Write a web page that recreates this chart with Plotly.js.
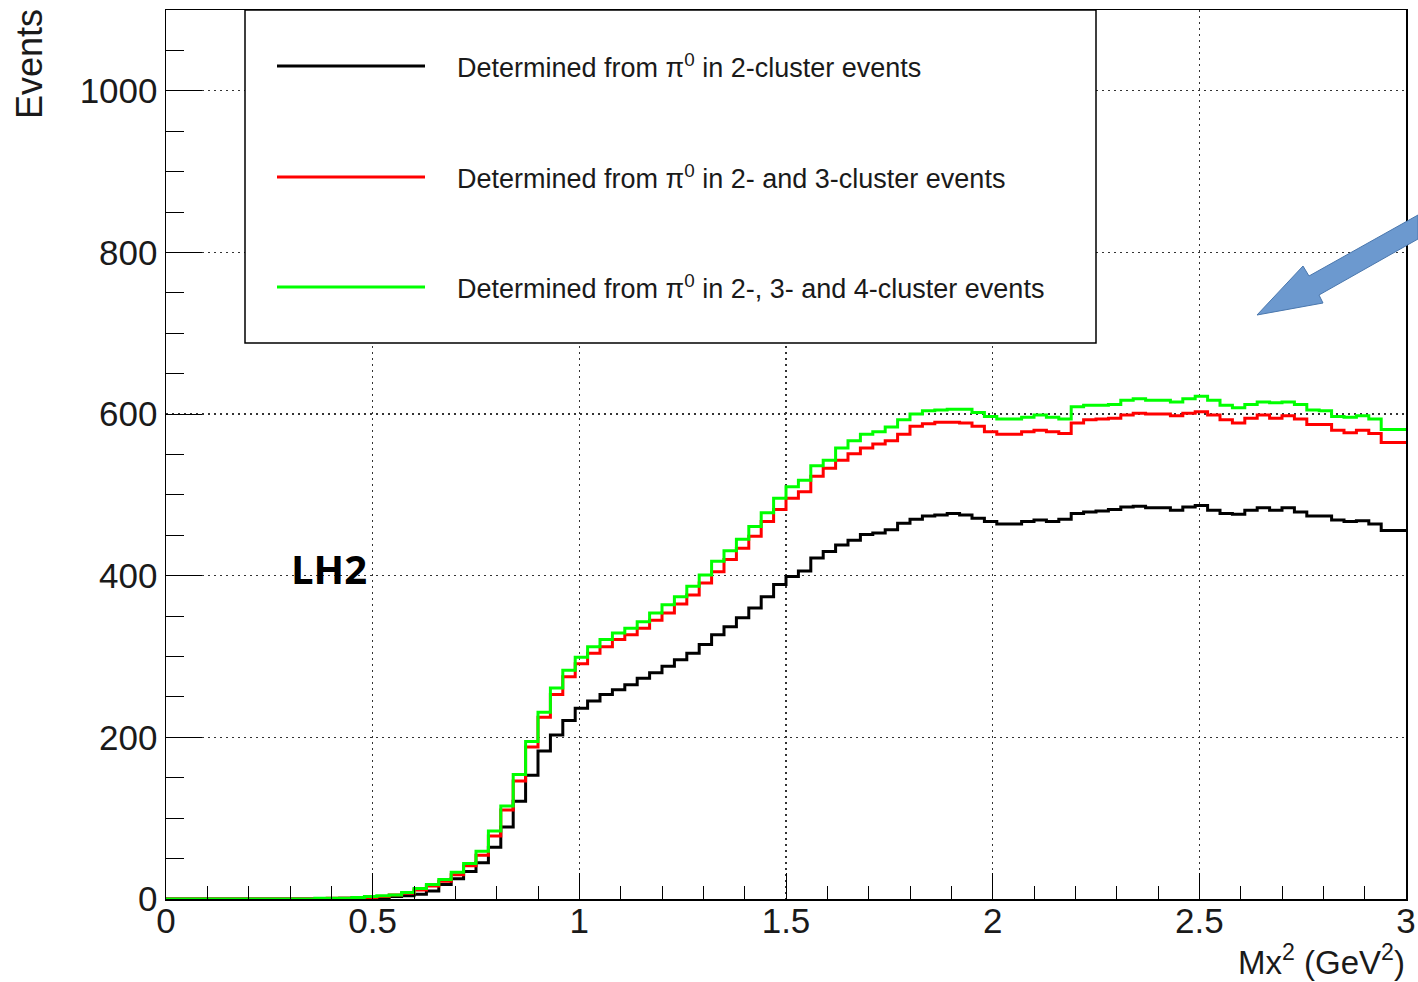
<!DOCTYPE html>
<html><head><meta charset="utf-8">
<script src="https://cdn.plot.ly/plotly-3.0.1.min.js"></script>
<style>html,body{margin:0;padding:0;background:#fff}#chart{width:1418px;height:982px}</style>
</head><body><div id="chart"></div>
<script>
// ---- data ----
const xMin = 0, xMax = 3, nBins = 100;
const seriesNames = [
  'Determined from π<sup>0</sup> in 2-cluster events',
  'Determined from π<sup>0</sup> in 2- and 3-cluster events',
  'Determined from π<sup>0</sup> in 2-, 3- and 4-cluster events'
];
const counts2 = [0,0,0,0,0,0,0,0,0,0,
 0,0,0,0,1,1,2,2,3,4,
 6,10,18,25,34,45,64,89,121,153,
 183,203,221,236,245,253,259,265,273,280,
 288,296,304,315,327,337,348,360,374,389,
 399,406,422,430,438,444,451,453,457,465,
 470,474,475,477,475,471,467,464,464,467,
 469,467,470,477,479,480,482,485,486,484,
 484,481,485,487,481,477,476,481,484,481,
 484,479,474,474,469,467,468,464,456,456];
const counts23 = [0,0,0,0,0,0,0,0,0,0,
 0,0,0,1,1,2,2,3,5,7,
 11,16,22,30,41,54,78,110,146,188,
 225,253,275,291,304,312,321,327,335,345,
 354,365,376,391,405,420,434,449,467,482,
 496,504,523,533,543,551,558,563,567,575,
 585,588,590,590,589,585,578,575,575,578,
 580,578,576,589,593,594,595,599,601,600,
 600,598,601,603,599,593,589,595,599,595,
 598,594,587,587,580,577,580,576,565,565];
const counts234 = [0,0,0,0,0,0,0,0,0,0,
 0,0,1,1,1,2,3,4,5,8,
 13,18,24,33,44,59,84,115,154,195,
 231,261,283,299,312,321,329,335,343,354,
 364,374,387,401,418,431,445,461,478,496,
 510,518,536,543,558,567,575,578,584,593,
 600,604,605,606,606,602,597,594,594,596,
 599,596,594,609,611,611,612,617,619,617,
 617,615,619,622,617,611,608,612,615,614,
 615,612,605,604,597,596,598,594,581,581];
const colors = ['#000000', '#ff0000', '#00ff00'];
const xTitle = 'Mx<sup>2</sup> (GeV<sup>2</sup>)';
const yTitle = 'Events';
const targetLabel = 'LH2';

// ---- build ----
const edges = [];
for (let i = 0; i <= nBins; i++) edges.push(+(xMin + (xMax - xMin) * i / nBins).toFixed(4));
function stepY(c) { return c.concat([c[c.length - 1]]); }
const allCounts = [counts2, counts23, counts234];
const traces = allCounts.map((c, k) => ({
  type: 'scatter', mode: 'lines', x: edges, y: stepY(c),
  line: {shape: 'hv', color: colors[k], width: 3},
  name: seriesNames[k], showlegend: false, hoverinfo: 'x+y'
}));

// plot area in pixels
const L = 166, R = 1406, T = 10, B = 899, W = 1418, H = 982;
const px = v => (v - L) / (R - L);
const py = v => (B - v) / (B - T);
const font = 'Liberation Sans, Arial, Helvetica, sans-serif';

const shapes = [];
const annotations = [];
// legend box
shapes.push({type: 'rect', xref: 'paper', yref: 'paper', x0: px(245), x1: px(1096), y0: py(343), y1: py(10),
  fillcolor: '#ffffff', line: {color: '#000', width: 1.5}, layer: 'above'});
const legY = [66, 177, 287];
seriesNames.forEach((n, k) => {
  shapes.push({type: 'line', xref: 'paper', yref: 'paper', x0: px(277), x1: px(425), y0: py(legY[k]), y1: py(legY[k]),
    line: {color: colors[k], width: 3}, layer: 'above'});
  annotations.push({xref: 'paper', yref: 'paper', x: px(455), y: py(legY[k]), xanchor: 'left', yanchor: 'middle',
    text: n, showarrow: false, font: {family: font, size: 27, color: '#1a1a1a'}});
});
// arrow
const arrowPts = [[1257, 315], [1303, 266], [1309, 276], [1418, 215], [1418, 239], [1319, 295], [1323, 303]];
shapes.push({type: 'path', xref: 'paper', yref: 'paper', layer: 'above',
  path: 'M' + arrowPts.map(p => px(p[0]) + ',' + py(p[1])).join(' L') + ' Z',
  fillcolor: '#6c99cf', line: {color: '#4a77ad', width: 1}});
// titles
annotations.push({xref: 'paper', yref: 'paper', x: px(1407), y: py(960), xanchor: 'right', yanchor: 'middle',
  text: xTitle, showarrow: false, font: {family: font, size: 33, color: '#1a1a1a'}});
annotations.push({xref: 'paper', yref: 'paper', x: px(30), y: py(64), xanchor: 'center', yanchor: 'middle',
  text: yTitle, textangle: -90, showarrow: false, font: {family: font, size: 36, color: '#1a1a1a'}});
annotations.push({xref: 'paper', yref: 'paper', x: px(329), y: py(568), xanchor: 'center', yanchor: 'middle',
  text: '<b>' + targetLabel + '</b>', showarrow: false, font: {family: 'Open Sans, Liberation Sans, sans-serif', size: 40, color: '#000'}});

const axisCommon = {
  ticks: 'inside', tickcolor: '#000', tickwidth: 1,
  showline: true, linecolor: '#000', linewidth: 1.5, mirror: true,
  showgrid: true, gridcolor: '#333', griddash: '2px,4px', gridwidth: 1.2,
  zeroline: false, tickfont: {family: font, size: 35, color: '#1a1a1a'}
};
const layout = {
  width: W, height: H, margin: {l: L, r: W - R, t: T, b: H - B},
  paper_bgcolor: '#fff', plot_bgcolor: '#fff', showlegend: false,
  xaxis: Object.assign({}, axisCommon, {range: [xMin, xMax], tick0: 0, dtick: 0.5, ticklen: 26,
    ticklabelstandoff: -10,
    minor: {dtick: 0.1, ticks: 'inside', ticklen: 13, tickcolor: '#000', tickwidth: 1, showgrid: false}}),
  yaxis: Object.assign({}, axisCommon, {range: [0, 1100], tick0: 0, dtick: 200, ticklen: 36,
    minor: {dtick: 50, ticks: 'inside', ticklen: 18, tickcolor: '#000', tickwidth: 1, showgrid: false}}),
  shapes: shapes, annotations: annotations
};
Plotly.newPlot('chart', traces, layout, {displayModeBar: false, staticPlot: true});
</script></body></html>
